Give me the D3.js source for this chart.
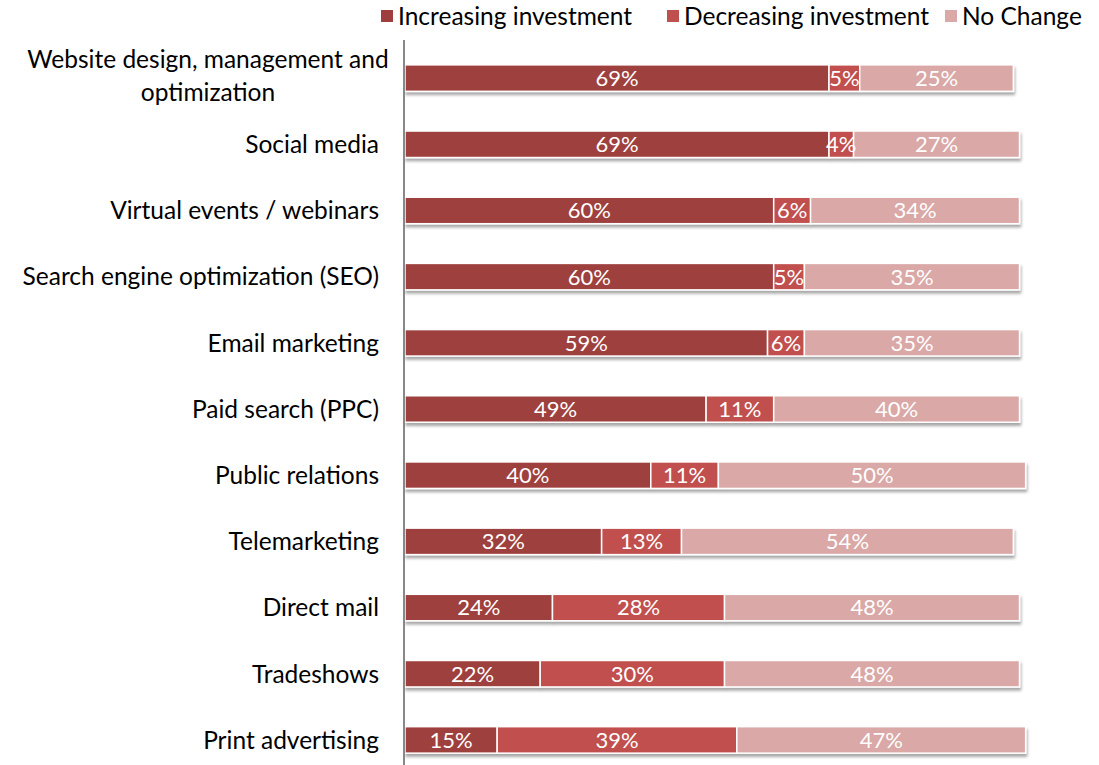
<!DOCTYPE html>
<html><head><meta charset="utf-8">
<script src="https://cdn.jsdelivr.net/npm/d3@7"></script>
<style>body{margin:0;background:#fff;} svg{display:block;font-family:Lato, "Open Sans", sans-serif;}</style>
</head><body>
<svg id="c" width="1099" height="765"></svg>
<script>
const categories = ["Website design, management and optimization","Social media","Virtual events / webinars","Search engine optimization (SEO)","Email marketing","Paid search (PPC)","Public relations","Telemarketing","Direct mail","Tradeshows","Print advertising"];
const increasing = [69,69,60,60,59,49,40,32,24,22,15];
const decreasing = [5,4,6,5,6,11,11,13,28,30,39];
const noChange = [25,27,34,35,35,40,50,54,48,48,47];
const seriesNames = ["Increasing investment","Decreasing investment","No Change"];
const colors = ["#9E3F3E","#C0504D","#D9A8A7"];

const svg = d3.select("#c");
const x0 = 405, barW = 614.5;
const x = d3.scaleLinear().domain([0,100]).range([x0, x0+barW]);
const y = d3.scaleBand().domain(categories).range([45, 773]).paddingInner(0.6).paddingOuter(0.3);

const defs = svg.append("defs");
const f = defs.append("filter").attr("id","sh").attr("x","-5%").attr("y","-30%").attr("width","110%").attr("height","180%");
f.append("feGaussianBlur").attr("in","SourceAlpha").attr("stdDeviation",1.5).attr("result","b");
f.append("feOffset").attr("in","b").attr("dx",1).attr("dy",3).attr("result","o");
f.append("feComponentTransfer").attr("in","o").attr("result","o2").append("feFuncA").attr("type","linear").attr("slope",0.35);
const m = f.append("feMerge"); m.append("feMergeNode").attr("in","o2"); m.append("feMergeNode").attr("in","SourceGraphic");

const rows = categories.map((c,i)=>({c, vals:[increasing[i],decreasing[i],noChange[i]]}));
const g = svg.append("g");
rows.forEach(r=>{
  let acc = 0;
  const rg = g.append("g").attr("filter","url(#sh)");
  r.vals.forEach((v,j)=>{
    rg.append("rect").attr("x",x(acc)).attr("y",y(r.c)).attr("width",x(acc+v)-x(acc)).attr("height",y.bandwidth())
      .attr("fill",colors[j]).attr("stroke","#fff").attr("stroke-width",1.5);
    acc += v;
  });
  acc = 0;
  r.vals.forEach((v,j)=>{
    g.append("text").attr("x",(x(acc)+x(acc+v))/2).attr("y",y(r.c)+y.bandwidth()/2).attr("dy","0.36em")
      .attr("text-anchor","middle").attr("fill","#fff").attr("font-size",22).text(v+"%");
    acc += v;
  });
});

// axis
const ax = svg.append("g").attr("transform",`translate(${x0-1},0)`).call(d3.axisLeft(y).tickSize(0).tickPadding(0).tickFormat(""));
ax.select(".domain").attr("stroke","#888").attr("stroke-width",2).attr("d","M0,40V765");

// labels
categories.forEach((c,i)=>{
  const cy = y(c)+y.bandwidth()/2;
  if (c.length > 35) {
    const t = svg.append("text").attr("text-anchor","middle").attr("font-size",24.5).attr("fill","#000");
    t.append("tspan").attr("x",208).attr("y",cy-10).text("Website design, management and");
    t.append("tspan").attr("x",208).attr("y",cy+23).text("optimization");
  } else {
    svg.append("text").attr("x",379).attr("y",cy).attr("dy","0.36em").attr("text-anchor","end").attr("font-size",24.5).attr("fill","#000").text(c);
  }
});

// legend
const lx = [381, 667, 945];
seriesNames.forEach((n,i)=>{
  svg.append("rect").attr("x",lx[i]).attr("y",10).attr("width",12).attr("height",12).attr("fill",colors[i]);
  svg.append("text").attr("x",lx[i]+17).attr("y",16).attr("dy","0.36em").attr("font-size",24.5).attr("fill","#000").text(n);
});
</script>
</body></html>
